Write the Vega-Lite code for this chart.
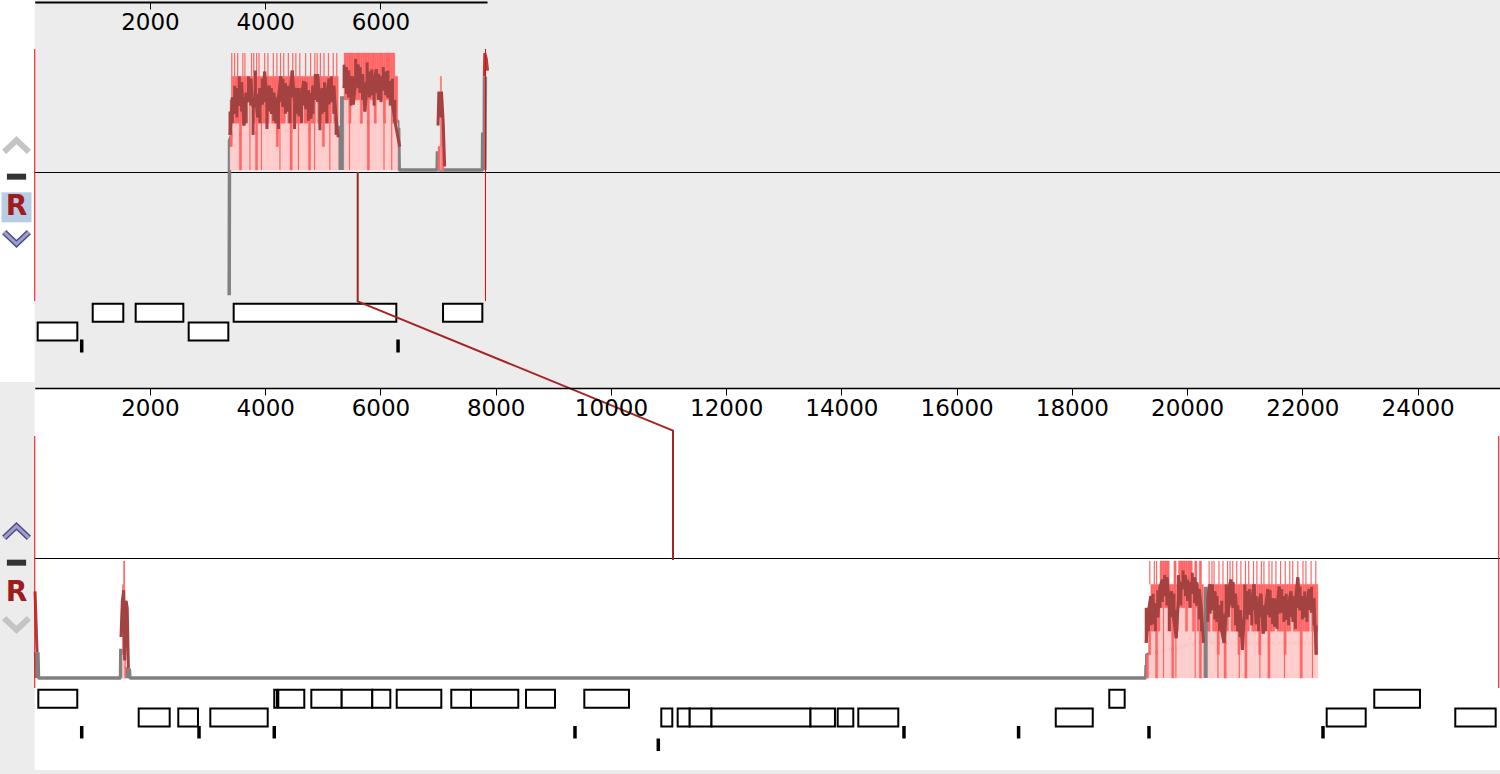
{
"$schema": "https://vega.github.io/schema/vega-lite/v6.json",
"width": 1500, "height": 774, "padding": 0, "autosize": {"type": "none"},
"background": "#ececec",
"config": {"view": {"stroke": null}, "axis": {"grid": false}},
"resolve": {"scale": {"x": "independent", "y": "independent"}},
"datasets": {
"frame": [{"panel": "top", "from": -620, "to": 0}, {"panel": "bottom", "from": 0, "to": 25600}],
"centre": [{"panel": "top", "from": 0, "to": 25600}, {"panel": "bottom", "from": 0, "to": 25600}],
"bounds": [{"panel": "top", "pos": 0}, {"panel": "top", "pos": 7823}, {"panel": "bottom", "pos": 0}, {"panel": "bottom", "pos": 25408}],
"covTop": [
{"seg":"a","s":3390,"e":3430,"lo":20,"hi":60,"avg":30,"dip":50},
{"seg":"a","s":3430,"e":3470,"lo":40,"hi":80,"avg":62,"dip":40},
{"seg":"a","s":3470,"e":3510,"lo":40,"hi":80,"avg":48,"dip":72},
{"seg":"a","s":3510,"e":3550,"lo":40,"hi":80,"avg":70,"dip":45},
{"seg":"a","s":3550,"e":3590,"lo":0,"hi":80,"avg":55,"dip":80},
{"seg":"a","s":3590,"e":3630,"lo":40,"hi":80,"avg":75,"dip":50},
{"seg":"a","s":3630,"e":3670,"lo":40,"hi":80,"avg":38,"dip":62},
{"seg":"a","s":3670,"e":3710,"lo":60,"hi":80,"avg":66,"dip":40},
{"seg":"a","s":3710,"e":3750,"lo":60,"hi":80,"avg":58,"dip":80},
{"seg":"a","s":3750,"e":3790,"lo":60,"hi":80,"avg":78,"dip":55},
{"seg":"a","s":3790,"e":3830,"lo":40,"hi":80,"avg":52,"dip":30},
{"seg":"a","s":3830,"e":3870,"lo":0,"hi":80,"avg":64,"dip":85},
{"seg":"a","s":3870,"e":3910,"lo":40,"hi":80,"avg":45,"dip":65},
{"seg":"a","s":3910,"e":3950,"lo":40,"hi":80,"avg":70,"dip":40},
{"seg":"a","s":3950,"e":3990,"lo":40,"hi":80,"avg":56,"dip":78},
{"seg":"a","s":3990,"e":4030,"lo":40,"hi":80,"avg":84,"dip":58},
{"seg":"a","s":4030,"e":4070,"lo":40,"hi":80,"avg":60,"dip":35},
{"seg":"a","s":4070,"e":4110,"lo":60,"hi":80,"avg":72,"dip":50},
{"seg":"a","s":4110,"e":4150,"lo":40,"hi":80,"avg":48,"dip":70},
{"seg":"a","s":4150,"e":4190,"lo":40,"hi":80,"avg":66,"dip":42},
{"seg":"a","s":4190,"e":4230,"lo":20,"hi":80,"avg":40,"dip":62},
{"seg":"a","s":4230,"e":4270,"lo":40,"hi":80,"avg":62,"dip":35},
{"seg":"a","s":4270,"e":4310,"lo":40,"hi":80,"avg":80,"dip":58},
{"seg":"a","s":4310,"e":4350,"lo":40,"hi":80,"avg":54,"dip":78},
{"seg":"a","s":4350,"e":4390,"lo":60,"hi":80,"avg":74,"dip":48},
{"seg":"a","s":4390,"e":4430,"lo":40,"hi":80,"avg":50,"dip":72},
{"seg":"a","s":4430,"e":4470,"lo":0,"hi":80,"avg":66,"dip":40},
{"seg":"a","s":4470,"e":4510,"lo":40,"hi":80,"avg":85,"dip":62},
{"seg":"a","s":4510,"e":4550,"lo":40,"hi":80,"avg":58,"dip":35},
{"seg":"a","s":4550,"e":4590,"lo":40,"hi":80,"avg":70,"dip":48},
{"seg":"a","s":4590,"e":4630,"lo":40,"hi":80,"avg":46,"dip":70},
{"seg":"a","s":4630,"e":4670,"lo":60,"hi":80,"avg":64,"dip":40},
{"seg":"a","s":4670,"e":4710,"lo":40,"hi":80,"avg":76,"dip":55},
{"seg":"a","s":4710,"e":4750,"lo":40,"hi":80,"avg":52,"dip":75},
{"seg":"a","s":4750,"e":4790,"lo":0,"hi":80,"avg":68,"dip":42},
{"seg":"a","s":4790,"e":4830,"lo":40,"hi":80,"avg":44,"dip":66},
{"seg":"a","s":4830,"e":4870,"lo":40,"hi":80,"avg":72,"dip":48},
{"seg":"a","s":4870,"e":4910,"lo":60,"hi":80,"avg":60,"dip":82},
{"seg":"a","s":4910,"e":4950,"lo":40,"hi":80,"avg":82,"dip":58},
{"seg":"a","s":4950,"e":4990,"lo":40,"hi":80,"avg":56,"dip":34},
{"seg":"a","s":4990,"e":5030,"lo":20,"hi":80,"avg":70,"dip":48},
{"seg":"a","s":5030,"e":5070,"lo":40,"hi":80,"avg":50,"dip":75},
{"seg":"a","s":5070,"e":5110,"lo":40,"hi":80,"avg":66,"dip":40},
{"seg":"a","s":5110,"e":5150,"lo":40,"hi":80,"avg":78,"dip":56},
{"seg":"a","s":5150,"e":5190,"lo":60,"hi":80,"avg":58,"dip":80},
{"seg":"a","s":5190,"e":5230,"lo":40,"hi":80,"avg":72,"dip":48},
{"seg":"a","s":5230,"e":5268,"lo":40,"hi":80,"avg":45,"dip":30},
{"seg":"a","s":5268,"e":5268,"lo":0,"hi":0,"avg":28},
{"seg":"b","s":5370,"e":5410,"lo":60,"hi":100,"avg":70,"dip":90},
{"seg":"b","s":5410,"e":5450,"lo":60,"hi":100,"avg":88,"dip":65},
{"seg":"b","s":5450,"e":5490,"lo":40,"hi":100,"avg":62,"dip":85},
{"seg":"b","s":5490,"e":5530,"lo":60,"hi":100,"avg":80,"dip":55},
{"seg":"b","s":5530,"e":5570,"lo":60,"hi":100,"avg":56,"dip":80},
{"seg":"b","s":5570,"e":5610,"lo":60,"hi":100,"avg":76,"dip":95},
{"seg":"b","s":5610,"e":5650,"lo":60,"hi":100,"avg":90,"dip":70},
{"seg":"b","s":5650,"e":5690,"lo":40,"hi":100,"avg":66,"dip":88},
{"seg":"b","s":5690,"e":5730,"lo":60,"hi":100,"avg":82,"dip":60},
{"seg":"b","s":5730,"e":5770,"lo":60,"hi":100,"avg":50,"dip":75},
{"seg":"b","s":5770,"e":5810,"lo":0,"hi":100,"avg":72,"dip":92},
{"seg":"b","s":5810,"e":5850,"lo":60,"hi":100,"avg":84,"dip":62},
{"seg":"b","s":5850,"e":5890,"lo":60,"hi":100,"avg":64,"dip":86},
{"seg":"b","s":5890,"e":5930,"lo":40,"hi":100,"avg":78,"dip":55},
{"seg":"b","s":5930,"e":5970,"lo":60,"hi":100,"avg":86,"dip":66},
{"seg":"b","s":5970,"e":6010,"lo":60,"hi":100,"avg":60,"dip":82},
{"seg":"b","s":6010,"e":6050,"lo":60,"hi":100,"avg":80,"dip":58},
{"seg":"b","s":6050,"e":6090,"lo":40,"hi":100,"avg":68,"dip":88},
{"seg":"b","s":6090,"e":6130,"lo":60,"hi":100,"avg":84,"dip":64},
{"seg":"b","s":6130,"e":6170,"lo":60,"hi":100,"avg":62,"dip":85},
{"seg":"b","s":6170,"e":6210,"lo":60,"hi":100,"avg":76,"dip":55},
{"seg":"b","s":6210,"e":6250,"lo":40,"hi":100,"avg":56,"dip":78},
{"seg":"b","s":6250,"e":6300,"lo":40,"hi":80,"avg":42,"dip":60},
{"seg":"b","s":6335,"e":6335,"lo":0,"hi":0,"avg":20},
{"seg":"c","s":7000,"e":7040,"lo":0,"hi":20,"avg":38},
{"seg":"c","s":7015,"e":7015,"lo":0,"hi":0,"avg":67},
{"seg":"c","s":7040,"e":7060,"lo":20,"hi":80,"avg":45},
{"seg":"c","s":7060,"e":7100,"lo":0,"hi":40,"avg":67},
{"seg":"c","s":7090,"e":7090,"lo":0,"hi":0,"avg":40},
{"seg":"c","s":7115,"e":7115,"lo":0,"hi":0,"avg":3},
{"seg":"d","s":7803,"e":7803,"lo":0,"hi":0,"avg":80},
{"seg":"d","s":7812,"e":7812,"lo":0,"hi":0,"avg":100},
{"seg":"d","s":7838,"e":7838,"lo":0,"hi":0,"avg":95},
{"seg":"d","s":7860,"e":7860,"lo":0,"hi":0,"avg":85}
],
"covBottom": [
{"seg":"p0","s":5,"e":5,"lo":0,"hi":0,"avg":74},
{"seg":"p0","s":40,"e":40,"lo":0,"hi":0,"avg":22},
{"seg":"p1","s":1497,"e":1520,"lo":0,"hi":0,"avg":35},
{"seg":"p1","s":1520,"e":1545,"lo":20,"hi":80,"avg":66},
{"seg":"p1","s":1545,"e":1560,"lo":20,"hi":100,"avg":75},
{"seg":"p1","s":1560,"e":1580,"lo":0,"hi":60,"avg":15},
{"seg":"p1","s":1585,"e":1585,"lo":0,"hi":0,"avg":66},
{"seg":"p1","s":1605,"e":1605,"lo":0,"hi":0,"avg":60},
{"seg":"p1","s":1625,"e":1625,"lo":0,"hi":0,"avg":8},
{"seg":"q","s":19290,"e":19330,"lo":0,"hi":20,"avg":30,"dip":60},
{"seg":"q","s":19330,"e":19370,"lo":20,"hi":60,"avg":58,"dip":40},
{"seg":"q","s":19370,"e":19410,"lo":40,"hi":80,"avg":70,"dip":45},
{"seg":"q","s":19410,"e":19450,"lo":40,"hi":80,"avg":46,"dip":72},
{"seg":"q","s":19450,"e":19490,"lo":0,"hi":80,"avg":64,"dip":40},
{"seg":"q","s":19490,"e":19530,"lo":40,"hi":80,"avg":52,"dip":75},
{"seg":"q","s":19530,"e":19570,"lo":60,"hi":100,"avg":78,"dip":60},
{"seg":"q","s":19570,"e":19610,"lo":60,"hi":100,"avg":84,"dip":65},
{"seg":"q","s":19610,"e":19650,"lo":60,"hi":100,"avg":70,"dip":88},
{"seg":"q","s":19650,"e":19690,"lo":60,"hi":100,"avg":86,"dip":62},
{"seg":"q","s":19690,"e":19730,"lo":40,"hi":80,"avg":64,"dip":40},
{"seg":"q","s":19730,"e":19770,"lo":0,"hi":80,"avg":74,"dip":52},
{"seg":"q","s":19770,"e":19810,"lo":40,"hi":100,"avg":50,"dip":72},
{"seg":"q","s":19810,"e":19850,"lo":40,"hi":80,"avg":34,"dip":58},
{"seg":"q","s":19850,"e":19890,"lo":60,"hi":100,"avg":68,"dip":88},
{"seg":"q","s":19890,"e":19930,"lo":60,"hi":100,"avg":82,"dip":62},
{"seg":"q","s":19930,"e":19970,"lo":60,"hi":100,"avg":76,"dip":92},
{"seg":"q","s":19970,"e":20010,"lo":40,"hi":100,"avg":88,"dip":70},
{"seg":"q","s":20010,"e":20050,"lo":60,"hi":100,"avg":66,"dip":84},
{"seg":"q","s":20050,"e":20090,"lo":60,"hi":100,"avg":82,"dip":60},
{"seg":"q","s":20090,"e":20130,"lo":40,"hi":80,"avg":72,"dip":90},
{"seg":"q","s":20130,"e":20170,"lo":60,"hi":100,"avg":86,"dip":64},
{"seg":"q","s":20170,"e":20210,"lo":40,"hi":80,"avg":62,"dip":82},
{"seg":"q","s":20210,"e":20250,"lo":0,"hi":100,"avg":76,"dip":50},
{"seg":"q","s":20250,"e":20283,"lo":40,"hi":80,"avg":58,"dip":40},
{"seg":"q","s":20283,"e":20283,"lo":0,"hi":0,"avg":30},
{"seg":"r","s":20360,"e":20400,"lo":40,"hi":80,"avg":70,"dip":48},
{"seg":"r","s":20400,"e":20440,"lo":60,"hi":80,"avg":80,"dip":55},
{"seg":"r","s":20440,"e":20480,"lo":40,"hi":80,"avg":58,"dip":80},
{"seg":"r","s":20480,"e":20520,"lo":40,"hi":80,"avg":74,"dip":50},
{"seg":"r","s":20520,"e":20560,"lo":20,"hi":80,"avg":48,"dip":70},
{"seg":"r","s":20560,"e":20600,"lo":40,"hi":80,"avg":62,"dip":40},
{"seg":"r","s":20600,"e":20640,"lo":40,"hi":80,"avg":40,"dip":66},
{"seg":"r","s":20640,"e":20680,"lo":0,"hi":80,"avg":30,"dip":55},
{"seg":"r","s":20680,"e":20720,"lo":40,"hi":80,"avg":56,"dip":80},
{"seg":"r","s":20720,"e":20760,"lo":60,"hi":80,"avg":76,"dip":52},
{"seg":"r","s":20760,"e":20800,"lo":40,"hi":80,"avg":84,"dip":62},
{"seg":"r","s":20800,"e":20840,"lo":40,"hi":80,"avg":60,"dip":82},
{"seg":"r","s":20840,"e":20880,"lo":40,"hi":80,"avg":72,"dip":45},
{"seg":"r","s":20880,"e":20920,"lo":20,"hi":80,"avg":40,"dip":62},
{"seg":"r","s":20920,"e":20960,"lo":40,"hi":80,"avg":58,"dip":35},
{"seg":"r","s":20960,"e":21000,"lo":40,"hi":80,"avg":24,"dip":50},
{"seg":"r","s":21000,"e":21040,"lo":0,"hi":80,"avg":62,"dip":80},
{"seg":"r","s":21040,"e":21080,"lo":40,"hi":80,"avg":74,"dip":50},
{"seg":"r","s":21080,"e":21120,"lo":60,"hi":80,"avg":54,"dip":76},
{"seg":"r","s":21120,"e":21160,"lo":40,"hi":80,"avg":66,"dip":45},
{"seg":"r","s":21160,"e":21200,"lo":40,"hi":80,"avg":80,"dip":58},
{"seg":"r","s":21200,"e":21240,"lo":40,"hi":80,"avg":46,"dip":70},
{"seg":"r","s":21240,"e":21280,"lo":20,"hi":80,"avg":64,"dip":40},
{"seg":"r","s":21280,"e":21320,"lo":40,"hi":80,"avg":72,"dip":52},
{"seg":"r","s":21320,"e":21360,"lo":40,"hi":80,"avg":38,"dip":62},
{"seg":"r","s":21360,"e":21400,"lo":40,"hi":80,"avg":60,"dip":40},
{"seg":"r","s":21400,"e":21440,"lo":0,"hi":80,"avg":76,"dip":54},
{"seg":"r","s":21440,"e":21480,"lo":40,"hi":80,"avg":52,"dip":75},
{"seg":"r","s":21480,"e":21520,"lo":40,"hi":80,"avg":68,"dip":46},
{"seg":"r","s":21520,"e":21560,"lo":60,"hi":80,"avg":44,"dip":68},
{"seg":"r","s":21560,"e":21600,"lo":40,"hi":80,"avg":62,"dip":42},
{"seg":"r","s":21600,"e":21640,"lo":40,"hi":80,"avg":78,"dip":55},
{"seg":"r","s":21640,"e":21680,"lo":40,"hi":80,"avg":56,"dip":76},
{"seg":"r","s":21680,"e":21720,"lo":20,"hi":80,"avg":70,"dip":48},
{"seg":"r","s":21720,"e":21760,"lo":40,"hi":80,"avg":50,"dip":72},
{"seg":"r","s":21760,"e":21800,"lo":40,"hi":80,"avg":64,"dip":45},
{"seg":"r","s":21800,"e":21840,"lo":60,"hi":80,"avg":74,"dip":52},
{"seg":"r","s":21840,"e":21880,"lo":40,"hi":80,"avg":48,"dip":70},
{"seg":"r","s":21880,"e":21920,"lo":40,"hi":80,"avg":66,"dip":42},
{"seg":"r","s":21920,"e":21960,"lo":40,"hi":80,"avg":86,"dip":60},
{"seg":"r","s":21960,"e":22000,"lo":0,"hi":80,"avg":58,"dip":78},
{"seg":"r","s":22000,"e":22040,"lo":40,"hi":80,"avg":70,"dip":50},
{"seg":"r","s":22040,"e":22080,"lo":40,"hi":80,"avg":52,"dip":74},
{"seg":"r","s":22080,"e":22120,"lo":40,"hi":80,"avg":66,"dip":48},
{"seg":"r","s":22120,"e":22160,"lo":60,"hi":80,"avg":76,"dip":58},
{"seg":"r","s":22160,"e":22200,"lo":40,"hi":80,"avg":56,"dip":78},
{"seg":"r","s":22200,"e":22240,"lo":40,"hi":80,"avg":68,"dip":45},
{"seg":"r","s":22240,"e":22270,"lo":40,"hi":80,"avg":20,"dip":45}
],
"spikesTop": [
{"pos":3420,"lo":40,"hi":100},{"pos":3468,"lo":80,"hi":100},{"pos":3522,"lo":80,"hi":100},{"pos":3612,"lo":80,"hi":100},{"pos":3648,"lo":80,"hi":100},{"pos":3762,"lo":80,"hi":100},{"pos":3801,"lo":80,"hi":100},{"pos":3852,"lo":80,"hi":100},{"pos":3893,"lo":80,"hi":100},{"pos":3991,"lo":80,"hi":100},{"pos":4048,"lo":80,"hi":100},{"pos":4141,"lo":80,"hi":100},{"pos":4203,"lo":80,"hi":100},{"pos":4266,"lo":80,"hi":100},{"pos":4322,"lo":80,"hi":100},{"pos":4402,"lo":80,"hi":100},{"pos":4478,"lo":80,"hi":100},{"pos":4532,"lo":80,"hi":100},{"pos":4601,"lo":80,"hi":100},{"pos":4702,"lo":80,"hi":100},{"pos":4788,"lo":80,"hi":100},{"pos":4861,"lo":80,"hi":100},{"pos":4902,"lo":80,"hi":100},{"pos":4958,"lo":80,"hi":100},{"pos":5021,"lo":80,"hi":100},{"pos":5098,"lo":80,"hi":100},{"pos":5181,"lo":80,"hi":100},{"pos":5243,"lo":80,"hi":100},
{"pos":3735,"lo":0,"hi":60},{"pos":3935,"lo":0,"hi":40},{"pos":4256,"lo":0,"hi":40},{"pos":4577,"lo":0,"hi":40},{"pos":4858,"lo":0,"hi":60},{"pos":5122,"lo":0,"hi":40},{"pos":5463,"lo":0,"hi":60},{"pos":6062,"lo":0,"hi":60},{"pos":6196,"lo":0,"hi":60}
],
"spikesBottom": [
{"pos":1552,"lo":80,"hi":100},
{"pos":20382,"lo":80,"hi":100},{"pos":20431,"lo":80,"hi":100},{"pos":20468,"lo":80,"hi":100},{"pos":20553,"lo":80,"hi":100},{"pos":20622,"lo":80,"hi":100},{"pos":20701,"lo":80,"hi":100},{"pos":20745,"lo":80,"hi":100},{"pos":20792,"lo":80,"hi":100},{"pos":20861,"lo":80,"hi":100},{"pos":20933,"lo":80,"hi":100},{"pos":21012,"lo":80,"hi":100},{"pos":21069,"lo":80,"hi":100},{"pos":21152,"lo":80,"hi":100},{"pos":21211,"lo":80,"hi":100},{"pos":21288,"lo":80,"hi":100},{"pos":21333,"lo":80,"hi":100},{"pos":21421,"lo":80,"hi":100},{"pos":21472,"lo":80,"hi":100},{"pos":21541,"lo":80,"hi":100},{"pos":21622,"lo":80,"hi":100},{"pos":21703,"lo":80,"hi":100},{"pos":21781,"lo":80,"hi":100},{"pos":21832,"lo":80,"hi":100},{"pos":21921,"lo":80,"hi":100},{"pos":22011,"lo":80,"hi":100},{"pos":22062,"lo":80,"hi":100},{"pos":22152,"lo":80,"hi":100},{"pos":22233,"lo":80,"hi":100},
{"pos":19352,"lo":80,"hi":100},{"pos":19431,"lo":80,"hi":100},{"pos":19470,"lo":80,"hi":100},
{"pos":19590,"lo":0,"hi":60},{"pos":19805,"lo":0,"hi":40},{"pos":20140,"lo":0,"hi":60},{"pos":20535,"lo":0,"hi":40},{"pos":20905,"lo":0,"hi":40},{"pos":21263,"lo":0,"hi":40},{"pos":21690,"lo":0,"hi":40},{"pos":22175,"lo":0,"hi":40}
],
"grayTop": [
{"pos":3375,"val":-107},{"pos":3381,"val":25},{"pos":3420,"val":30},{"pos":5262,"val":37},{"pos":5270,"val":37},{"pos":5280,"val":0},{"pos":5290,"val":37},{"pos":5300,"val":0},{"pos":5312,"val":37},{"pos":5322,"val":0},{"pos":5328,"val":63},{"pos":5340,"val":0},{"pos":5352,"val":63},{"pos":5364,"val":0},{"pos":5372,"val":63},{"pos":5400,"val":40},{"pos":6290,"val":42},{"pos":6300,"val":42},{"pos":6308,"val":0},{"pos":6316,"val":36},{"pos":6326,"val":0},{"pos":6985,"val":0},{"pos":6990,"val":16},{"pos":6998,"val":0},{"pos":7005,"val":16},{"pos":7012,"val":0},{"pos":7770,"val":0},{"pos":7775,"val":32},{"pos":7785,"val":0},{"pos":7795,"val":32},{"pos":7801,"val":0},{"pos":7806,"val":80},{"pos":7814,"val":0},{"pos":7822,"val":80}
],
"grayBottom": [
{"pos":15,"val":22},{"pos":25,"val":0},{"pos":35,"val":22},{"pos":45,"val":0},{"pos":55,"val":22},{"pos":65,"val":0},{"pos":1488,"val":0},{"pos":1494,"val":25},{"pos":1502,"val":0},{"pos":1510,"val":25},{"pos":1520,"val":10},{"pos":1575,"val":8},{"pos":1590,"val":0},{"pos":1605,"val":8},{"pos":1620,"val":0},{"pos":1640,"val":8},{"pos":1652,"val":0},{"pos":19282,"val":0},{"pos":19288,"val":11},{"pos":19296,"val":0},{"pos":19300,"val":20},{"pos":20280,"val":31},{"pos":20290,"val":0},{"pos":20300,"val":31},{"pos":20310,"val":0},{"pos":20318,"val":78},{"pos":20330,"val":0},{"pos":20342,"val":78},{"pos":20352,"val":0},{"pos":20360,"val":78},{"pos":20380,"val":30},{"pos":22262,"val":30}
],
"genesTop": [
{"lane":"1","s":1006,"e":1537},{"lane":"1","s":1752,"e":2579},{"lane":"1","s":3453,"e":6276},{"lane":"1","s":7087,"e":7769},
{"lane":"2","s":51,"e":739},{"lane":"2","s":2672,"e":3360}
],
"genesBottom": [
{"lane":"1","s":62,"e":738},{"lane":"1","s":4157,"e":4204},{"lane":"1","s":4227,"e":4678},{"lane":"1","s":4800,"e":5327},{"lane":"1","s":5327,"e":5858},{"lane":"1","s":5858,"e":6171},{"lane":"1","s":6282,"e":7056},{"lane":"1","s":7229,"e":7571},{"lane":"1","s":7571,"e":8392},{"lane":"1","s":8526,"e":9029},{"lane":"1","s":9538,"e":10313},{"lane":"1","s":18649,"e":18916},{"lane":"1","s":23248,"e":24041},
{"lane":"2","s":1804,"e":2342},{"lane":"2","s":2491,"e":2833},{"lane":"2","s":3047,"e":4043},{"lane":"2","s":10874,"e":11065},{"lane":"2","s":11158,"e":11367},{"lane":"2","s":11367,"e":11745},{"lane":"2","s":11745,"e":13463},{"lane":"2","s":13463,"e":13888},{"lane":"2","s":13935,"e":14206},{"lane":"2","s":14293,"e":14987},{"lane":"2","s":17720,"e":18362},{"lane":"2","s":22422,"e":23099},{"lane":"2","s":24654,"e":25355}
],
"ticksTop": [{"row":"a","pos":815},{"row":"a","pos":6306}],
"ticksBottom": [{"row":"a","pos":815},{"row":"a","pos":2851},{"row":"a","pos":4157},{"row":"a","pos":9376},{"row":"a","pos":15086},{"row":"a","pos":17075},{"row":"a","pos":19338},{"row":"a","pos":22358},{"row":"b","pos":10822}],
"icons": [
{"panel":"top","slot":"up","kind":"up","tone":"off"},
{"panel":"top","slot":"minus","kind":"minus","tone":"plain"},
{"panel":"top","slot":"R","kind":"R","tone":"sel"},
{"panel":"top","slot":"down","kind":"down","tone":"on"},
{"panel":"bottom","slot":"up","kind":"up","tone":"on"},
{"panel":"bottom","slot":"minus","kind":"minus","tone":"plain"},
{"panel":"bottom","slot":"R","kind":"R","tone":"plain"},
{"panel":"bottom","slot":"down","kind":"down","tone":"off"}
],
"link": [{"i":1,"pos":5605,"node":"a"},{"i":2,"pos":5605,"node":"b"},{"i":3,"pos":11077,"node":"c"},{"i":4,"pos":11077,"node":"d"}]
},
"layer": [
{"data":{"name":"frame"},"transform":[{"filter":"datum.panel == 'top'"}],"mark":{"type":"rect","fill":"#ffffff"},
 "encoding":{"x":{"field":"from","type":"quantitative","scale":{"domain":[0,25430],"range":[34.75,1500],"nice":false,"zero":false},"axis":null},"x2":{"field":"to"},
 "y":{"datum":0,"type":"quantitative","scale":{"domain":[0,1],"range":[0,382],"nice":false,"zero":false},"axis":null},"y2":{"datum":1}}},
{"data":{"name":"frame"},"transform":[{"filter":"datum.panel == 'bottom'"}],"mark":{"type":"rect","fill":"#ffffff"},
 "encoding":{"x":{"field":"from","type":"quantitative","scale":{"domain":[0,25430],"range":[34.75,1500],"nice":false,"zero":false},"axis":null},"x2":{"field":"to"},
 "y":{"datum":0,"type":"quantitative","scale":{"domain":[0,1],"range":[388,770],"nice":false,"zero":false},"axis":null},"y2":{"datum":1}}},
{"data":{"name":"icons"},"transform":[{"filter":"datum.tone == 'sel'"}],
 "mark":{"type":"point","shape":"square","filled":true,"fill":"#b8cce4","size":900,"opacity":1},
 "encoding":{"x":{"datum":"side","type":"nominal","scale":{"type":"point","domain":["side"],"range":[0,33],"padding":0.5},"axis":null},
 "y":{"field":"panel","type":"nominal","bandPosition":0,"scale":{"type":"band","domain":["top","bottom"],"range":[130,640],"paddingInner":0.6788,"paddingOuter":0},"axis":null},
 "yOffset":{"field":"slot","type":"nominal","scale":{"type":"point","domain":["up","minus","R","down"],"range":[16,108],"padding":0}}}},
{"data":{"name":"centre"},"mark":{"type":"rule","stroke":"#000000","strokeWidth":1},
 "encoding":{"x":{"field":"from","type":"quantitative","scale":{"domain":[0,25430],"range":[34.75,1500],"nice":false,"zero":false},"axis":null},"x2":{"field":"to"},
 "y":{"field":"panel","type":"nominal","scale":{"type":"point","domain":["top","bottom"],"range":[172.5,558.5],"padding":0},"axis":null}}},
{"data":{"name":"grayTop"},"mark":{"type":"line","stroke":"#808080","strokeWidth":3.5,"strokeJoin":"bevel"},
 "encoding":{"x":{"field":"pos","type":"quantitative","scale":{"domain":[0,7850],"range":[34.75,487],"nice":false,"zero":false},"axis":null},
 "y":{"field":"val","type":"quantitative","scale":{"domain":[0,100],"range":[170,53],"nice":false,"zero":false},"axis":null}}},
{"data":{"name":"grayBottom"},"mark":{"type":"line","stroke":"#808080","strokeWidth":3.5,"strokeJoin":"bevel"},
 "encoding":{"x":{"field":"pos","type":"quantitative","scale":{"domain":[0,25430],"range":[34.75,1500],"nice":false,"zero":false},"axis":null},
 "y":{"field":"val","type":"quantitative","scale":{"domain":[0,100],"range":[678,561],"nice":false,"zero":false},"axis":null}}},
{"data":{"name":"covTop"},"mark":{"type":"rect","fill":"#ffcccc","stroke":"#ffcccc","strokeWidth":0.4},
 "encoding":{"x":{"field":"s","type":"quantitative","scale":{"domain":[0,7850],"range":[34.75,487],"nice":false,"zero":false},
   "axis":{"orient":"bottom","offset":-772,"values":[2000,4000,6000],"format":"d","domainColor":"#000000","domainWidth":2,"tickColor":"#000000","tickSize":7,"tickWidth":1,"labelFont":"DejaVu Sans","labelFontSize":23,"labelColor":"#000000","labelPadding":2,"labelFlush":false,"labelOverlap":false,"title":null,"zindex":1}},
 "x2":{"field":"e"},
 "y":{"field":"lo","type":"quantitative","scale":{"domain":[0,100],"range":[170,53],"nice":false,"zero":false},"axis":null},"y2":{"datum":0}}},
{"data":{"name":"covBottom"},"mark":{"type":"rect","fill":"#ffcccc","stroke":"#ffcccc","strokeWidth":0.4},
 "encoding":{"x":{"field":"s","type":"quantitative","scale":{"domain":[0,25430],"range":[34.75,1500],"nice":false,"zero":false},
   "axis":{"orient":"bottom","offset":-386,"values":[2000,4000,6000,8000,10000,12000,14000,16000,18000,20000,22000,24000],"format":"d","domainColor":"#000000","domainWidth":1.5,"tickColor":"#000000","tickSize":7,"tickWidth":1,"labelFont":"DejaVu Sans","labelFontSize":23,"labelColor":"#000000","labelPadding":2,"labelFlush":false,"labelOverlap":false,"title":null,"zindex":1}},
 "x2":{"field":"e"},
 "y":{"field":"lo","type":"quantitative","scale":{"domain":[0,100],"range":[678,561],"nice":false,"zero":false},"axis":null},"y2":{"datum":0}}},
{"data":{"name":"covTop"},"mark":{"type":"rect","fill":"#ff6666","stroke":"#ff6666","strokeWidth":0.4},
 "encoding":{"x":{"field":"s","type":"quantitative","scale":{"domain":[0,7850],"range":[34.75,487],"nice":false,"zero":false},"axis":null},"x2":{"field":"e"},
 "y":{"field":"lo","type":"quantitative","scale":{"domain":[0,100],"range":[170,53],"nice":false,"zero":false},"axis":null},"y2":{"field":"hi"}}},
{"data":{"name":"covBottom"},"mark":{"type":"rect","fill":"#ff6666","stroke":"#ff6666","strokeWidth":0.4},
 "encoding":{"x":{"field":"s","type":"quantitative","scale":{"domain":[0,25430],"range":[34.75,1500],"nice":false,"zero":false},"axis":null},"x2":{"field":"e"},
 "y":{"field":"lo","type":"quantitative","scale":{"domain":[0,100],"range":[678,561],"nice":false,"zero":false},"axis":null},"y2":{"field":"hi"}}},
{"data":{"name":"spikesTop"},"mark":{"type":"rule","stroke":"#ff6666","strokeWidth":1.2},
 "encoding":{"x":{"field":"pos","type":"quantitative","scale":{"domain":[0,7850],"range":[34.75,487],"nice":false,"zero":false},"axis":null},
 "y":{"field":"lo","type":"quantitative","scale":{"domain":[0,100],"range":[170,53],"nice":false,"zero":false},"axis":null},"y2":{"field":"hi"}}},
{"data":{"name":"spikesBottom"},"mark":{"type":"rule","stroke":"#ff6666","strokeWidth":1.2},
 "encoding":{"x":{"field":"pos","type":"quantitative","scale":{"domain":[0,25430],"range":[34.75,1500],"nice":false,"zero":false},"axis":null},
 "y":{"field":"lo","type":"quantitative","scale":{"domain":[0,100],"range":[678,561],"nice":false,"zero":false},"axis":null},"y2":{"field":"hi"}}},
{"data":{"name":"covTop"},"transform":[{"filter":"isValid(datum.dip)"}],"mark":{"type":"rule","stroke":"#a44242","strokeWidth":3},
 "encoding":{"x":{"field":"s","type":"quantitative","scale":{"domain":[0,7850],"range":[34.75,487],"nice":false,"zero":false},"axis":null},
 "y":{"field":"avg","type":"quantitative","scale":{"domain":[0,100],"range":[170,53],"nice":false,"zero":false},"axis":null},"y2":{"field":"dip"}}},
{"data":{"name":"covBottom"},"transform":[{"filter":"isValid(datum.dip)"}],"mark":{"type":"rule","stroke":"#a44242","strokeWidth":3},
 "encoding":{"x":{"field":"s","type":"quantitative","scale":{"domain":[0,25430],"range":[34.75,1500],"nice":false,"zero":false},"axis":null},
 "y":{"field":"avg","type":"quantitative","scale":{"domain":[0,100],"range":[678,561],"nice":false,"zero":false},"axis":null},"y2":{"field":"dip"}}},
{"data":{"name":"covTop"},"mark":{"type":"line","stroke":"#a44242","strokeWidth":3,"strokeJoin":"bevel"},
 "encoding":{"x":{"field":"s","type":"quantitative","scale":{"domain":[0,7850],"range":[34.75,487],"nice":false,"zero":false},"axis":null},
 "y":{"field":"avg","type":"quantitative","scale":{"domain":[0,100],"range":[170,53],"nice":false,"zero":false},"axis":null},"detail":{"field":"seg"}}},
{"data":{"name":"covBottom"},"mark":{"type":"line","stroke":"#a44242","strokeWidth":3,"strokeJoin":"bevel"},
 "encoding":{"x":{"field":"s","type":"quantitative","scale":{"domain":[0,25430],"range":[34.75,1500],"nice":false,"zero":false},"axis":null},
 "y":{"field":"avg","type":"quantitative","scale":{"domain":[0,100],"range":[678,561],"nice":false,"zero":false},"axis":null},"detail":{"field":"seg"}}},
{"data":{"name":"bounds"},"mark":{"type":"tick","color":"#ff0000","thickness":1,"size":252,"opacity":1},
 "encoding":{"x":{"field":"pos","type":"quantitative","scale":{"domain":[0,25430],"range":[34.75,1500],"nice":false,"zero":false},"axis":null},
 "y":{"field":"panel","type":"nominal","scale":{"type":"band","domain":["top","bottom"],"range":[49,688],"paddingInner":0.349,"paddingOuter":0},"axis":null}}},
{"data":{"name":"genesTop"},"mark":{"type":"rect","fill":"#ffffff","stroke":"#000000","strokeWidth":2},
 "encoding":{"x":{"field":"s","type":"quantitative","scale":{"domain":[0,7850],"range":[34.75,487],"nice":false,"zero":false},"axis":null},"x2":{"field":"e"},
 "y":{"field":"lane","type":"nominal","scale":{"type":"band","domain":["1","2"],"range":[303.7,339],"paddingInner":0.122,"paddingOuter":0},"axis":null}}},
{"data":{"name":"genesBottom"},"mark":{"type":"rect","fill":"#ffffff","stroke":"#000000","strokeWidth":2},
 "encoding":{"x":{"field":"s","type":"quantitative","scale":{"domain":[0,25430],"range":[34.75,1500],"nice":false,"zero":false},"axis":null},"x2":{"field":"e"},
 "y":{"field":"lane","type":"nominal","scale":{"type":"band","domain":["1","2"],"range":[689.7,726],"paddingInner":0.069,"paddingOuter":0},"axis":null}}},
{"data":{"name":"ticksTop"},"mark":{"type":"tick","color":"#000000","thickness":3.5,"size":13,"opacity":1},
 "encoding":{"x":{"field":"pos","type":"quantitative","scale":{"domain":[0,7850],"range":[34.75,487],"nice":false,"zero":false},"axis":null},
 "y":{"field":"row","type":"nominal","scale":{"type":"band","domain":["a"],"range":[339.5,352.5],"paddingInner":0,"paddingOuter":0},"axis":null}}},
{"data":{"name":"ticksBottom"},"mark":{"type":"tick","color":"#000000","thickness":3.5,"size":12.5,"opacity":1},
 "encoding":{"x":{"field":"pos","type":"quantitative","scale":{"domain":[0,25430],"range":[34.75,1500],"nice":false,"zero":false},"axis":null},
 "y":{"field":"row","type":"nominal","scale":{"type":"band","domain":["a","b"],"range":[726,751],"paddingInner":0,"paddingOuter":0},"axis":null}}},
{"data":{"name":"icons"},"transform":[{"filter":"datum.kind != 'R'"}],
 "mark":{"type":"point","filled":false,"size":960,"strokeWidth":6,"opacity":1,"strokeJoin":"miter","strokeCap":"butt"},
 "encoding":{"x":{"datum":"side","type":"nominal","scale":{"type":"point","domain":["side"],"range":[0,33],"padding":0.5},"axis":null},
 "y":{"field":"panel","type":"nominal","bandPosition":0,"scale":{"type":"band","domain":["top","bottom"],"range":[130,640],"paddingInner":0.6788,"paddingOuter":0},"axis":null},
 "yOffset":{"field":"slot","type":"nominal","scale":{"type":"point","domain":["up","minus","R","down"],"range":[16,108],"padding":0}},
 "shape":{"field":"kind","type":"nominal","scale":{"domain":["up","down","minus"],"range":["M-0.8,0.38L0,-0.38L0.8,0.38","M-0.8,-0.38L0,0.38L0.8,-0.38","M-0.62,0L0.62,0"]},"legend":null},
 "stroke":{"field":"tone","type":"nominal","scale":{"domain":["on","off","plain"],"range":["#4e4e78","#c4c4c4","#333333"]},"legend":null}}},
{"data":{"name":"icons"},"transform":[{"filter":"datum.tone == 'on'"}],
 "mark":{"type":"point","filled":false,"size":960,"strokeWidth":3,"opacity":1,"stroke":"#9c9cd6","strokeJoin":"miter","strokeCap":"butt"},
 "encoding":{"x":{"datum":"side","type":"nominal","scale":{"type":"point","domain":["side"],"range":[0,33],"padding":0.5},"axis":null},
 "y":{"field":"panel","type":"nominal","bandPosition":0,"scale":{"type":"band","domain":["top","bottom"],"range":[130,640],"paddingInner":0.6788,"paddingOuter":0},"axis":null},
 "yOffset":{"field":"slot","type":"nominal","scale":{"type":"point","domain":["up","minus","R","down"],"range":[16,108],"padding":0}},
 "shape":{"field":"kind","type":"nominal","scale":{"domain":["up","down","minus"],"range":["M-0.8,0.38L0,-0.38L0.8,0.38","M-0.8,-0.38L0,0.38L0.8,-0.38","M-0.62,0L0.62,0"]},"legend":null}}},
{"data":{"name":"icons"},"transform":[{"filter":"datum.kind == 'R'"}],
 "mark":{"type":"text","font":"DejaVu Sans","fontWeight":"bold","fontSize":28,"fill":"#a01c1c","align":"center","baseline":"middle"},
 "encoding":{"x":{"datum":"side","type":"nominal","scale":{"type":"point","domain":["side"],"range":[0,33],"padding":0.5},"axis":null},
 "y":{"field":"panel","type":"nominal","bandPosition":0,"scale":{"type":"band","domain":["top","bottom"],"range":[130,640],"paddingInner":0.6788,"paddingOuter":0},"axis":null},
 "yOffset":{"field":"slot","type":"nominal","scale":{"type":"point","domain":["up","minus","R","down"],"range":[16,108],"padding":0}},
 "text":{"field":"kind"}}},
{"data":{"name":"link"},"mark":{"type":"line","stroke":"#a52323","strokeWidth":2,"strokeJoin":"miter"},
 "encoding":{"x":{"field":"pos","type":"quantitative","scale":{"domain":[0,25430],"range":[34.75,1500],"nice":false,"zero":false},"axis":null},
 "y":{"field":"node","type":"nominal","scale":{"type":"point","domain":["a","b","c","d"],"range":[172,560],"padding":0},"axis":null},
 "order":{"field":"i","type":"quantitative"}}}
]
}
